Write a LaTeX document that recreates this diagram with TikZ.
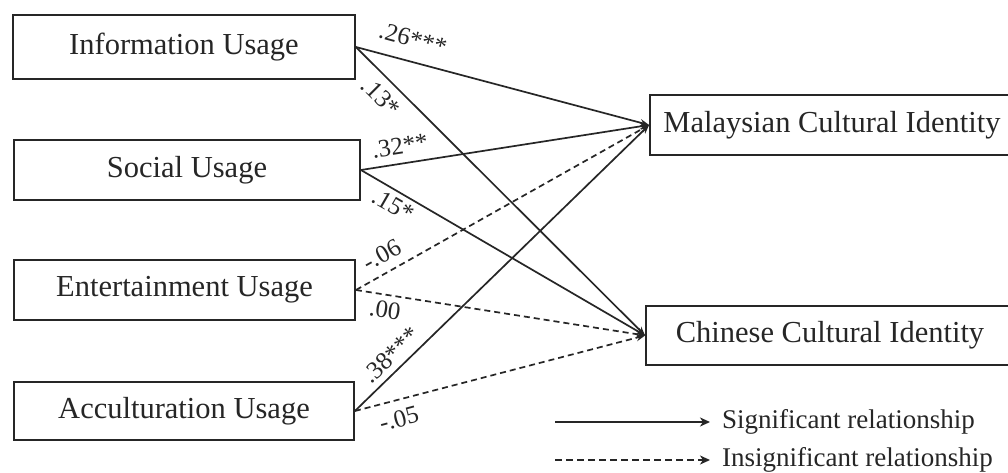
\documentclass[tikz,border=0pt]{standalone}
\usepackage{fontspec}
\setmainfont{Liberation Serif}
\usetikzlibrary{arrows.meta}
\definecolor{ink}{HTML}{262626}
\tikzset{
  box/.style={draw=ink, line width=1.8pt, inner sep=0pt, text=ink,
    font=\fontsize{30.5}{35}\selectfont},
  path/.style={draw=ink, line width=1.7pt, -{Stealth[length=9pt,width=7pt]}},
  ns/.style={path, dash pattern=on 6pt off 4pt},
  coef/.style={text=ink, font=\fontsize{25}{28}\selectfont, inner sep=0pt},
  legtext/.style={text=ink, font=\fontsize{27}{30}\selectfont, anchor=west, inner sep=0pt},
  legarrow/.style={draw=ink, line width=1.7pt, -{Stealth[length=10pt,width=9pt,inset=3pt]}}
}
\begin{document}
\begin{tikzpicture}[x=1pt,y=-1pt]
\useasboundingbox[fill=white] (0,0) rectangle (1008,473);
\clip (0,0) rectangle (1008,473);
% left boxes
\node[box, minimum width=342pt, minimum height=64pt] (info) at (184,47) {Information Usage};
\node[box, minimum width=346pt, minimum height=60pt] (soc) at (187,170) {Social Usage};
\node[box, minimum width=341pt, minimum height=60pt] (ent) at (184.5,290) {Entertainment Usage};
\node[box, minimum width=340pt, minimum height=58pt] (acc) at (184,411) {Acculturation Usage};
% right boxes
\node[box, minimum width=364pt, minimum height=60pt] (mal) at (832,125) {Malaysian Cultural Identity};
\node[box, minimum width=368pt, minimum height=59pt] (chi) at (830,335.5) {Chinese Cultural Identity};
% connectors
\draw[path] (info.east) -- (mal.west);
\draw[path] (info.east) -- (chi.west);
\draw[path] (soc.east) -- (mal.west);
\draw[path] (soc.east) -- (chi.west);
\draw[ns] (ent.east) -- (mal.west);
\draw[ns] (ent.east) -- (chi.west);
\draw[path] (acc.east) -- (mal.west);
\draw[ns] (acc.east) -- (chi.west);
% coefficients
\node[coef, rotate=-15] (c1) at (413,39) {.26***};
\node[coef, rotate=-45] (c2) at (381,97) {.13*};
\node[coef, rotate=9] (c3) at (400,146) {.32**};
\node[coef, rotate=-30] (c4) at (393,205) {.15*};
\node[coef, rotate=29] (c5) at (382,255) {-.06};
\node[coef, rotate=-8] (c6) at (385,310) {.00};
\node[coef, rotate=44] (c7) at (391,355) {.38***};
\node[coef, rotate=15] (c8) at (399,419) {-.05};
% legend
\coordinate (l1a) at (555,422);
\coordinate (l1b) at (710,422);
\coordinate (l2a) at (555,460);
\coordinate (l2b) at (710,460);
\draw[legarrow] (l1a) -- (l1b);
\draw[legarrow, dash pattern=on 7pt off 4pt] (l2a) -- (l2b);
\node[legtext] (lt1) at (722,422) {Significant relationship};
\node[legtext] (lt2) at (722,460) {Insignificant relationship};
\end{tikzpicture}
\end{document}
